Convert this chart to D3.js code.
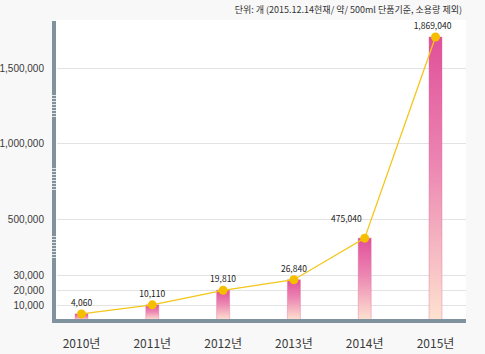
<!DOCTYPE html>
<html>
<head>
<meta charset="utf-8">
<script src="https://cdnjs.cloudflare.com/ajax/libs/d3/7.8.5/d3.min.js"></script>
<style>
  html, body { margin: 0; padding: 0; background: #f8f8f8; }
  svg { display: block; font-family: "Noto Sans CJK KR", "Noto Sans", sans-serif; }
</style>
</head>
<body>
<div id="chart"></div>
<script>
// data
var years = ["2010년", "2011년", "2012년", "2013년", "2014년", "2015년"];
var counts = [4060, 10110, 19810, 26840, 475040, 1869040];
var tickVals = [10000, 20000, 30000, 500000, 1000000, 1500000];
var unitNote = "단위: 개 (2015.12.14현재/ 약/ 500ml 단품기준, 소용량 제외)";

var W = 485, H = 354;
var plot = { left: 55, right: 466, top: 20, bottom: 320 };

var svg = d3.select("#chart").append("svg")
  .attr("width", W)
  .attr("height", H);

// gradient for the bars
var defs = svg.append("defs");
var grad = defs.append("linearGradient")
  .attr("id", "barGrad")
  .attr("x1", 0).attr("y1", 0).attr("x2", 0).attr("y2", 1);
grad.append("stop").attr("offset", "0%").attr("stop-color", "#e0509a");
grad.append("stop").attr("offset", "45%").attr("stop-color", "#ec86b2");
grad.append("stop").attr("offset", "100%").attr("stop-color", "#fde2cf");

// white plot background
svg.append("rect")
  .attr("x", plot.left).attr("y", plot.top)
  .attr("width", plot.right - plot.left)
  .attr("height", plot.bottom - plot.top)
  .attr("fill", "#fff");

// broken axis: piecewise linear scale
var y = d3.scaleLinear()
  .domain([0, 30000, 470000, 500000, 1000000, 1500000, 2000000])
  .range([plot.bottom, 275, 242, 219, 143, 68, 26]);

var x = d3.scalePoint()
  .domain(years)
  .range([plot.left + 26.5, plot.right - 30.5]);

// y axis with gridlines
var yAxis = svg.append("g")
  .attr("transform", "translate(" + plot.left + ",0)")
  .call(d3.axisLeft(y).tickValues(tickVals).tickSize(-(plot.right - plot.left)).tickPadding(11)
    .tickFormat(d3.format(",")));
yAxis.select(".domain").remove();
yAxis.selectAll(".tick line").attr("stroke", "#e3e3e3").attr("x1", 2);
yAxis.selectAll(".tick text")
  .attr("fill", "#3a3a3a")
  .style("font-size", "10px");

// x labels
svg.append("g").selectAll("text")
  .data(years)
  .enter().append("text")
  .attr("x", function(d) { return x(d); })
  .attr("y", 348)
  .attr("text-anchor", "middle")
  .attr("fill", "#3a3a3a")
  .style("font-size", "12px")
  .text(function(d) { return d; });

// bars
var barW = 13;
svg.append("g").selectAll("rect")
  .data(counts)
  .enter().append("rect")
  .attr("x", function(d, i) { return x(years[i]) - barW / 2; })
  .attr("y", function(d) { return y(d); })
  .attr("width", barW)
  .attr("height", function(d) { return plot.bottom - y(d); })
  .attr("fill", "url(#barGrad)")
  .attr("stroke", "#d9609c")
  .attr("stroke-opacity", 0.35)
  .attr("stroke-width", 1);

// axis bars
svg.append("rect")
  .attr("x", 52).attr("y", 21)
  .attr("width", 4).attr("height", 302)
  .attr("fill", "#7f929e");
svg.append("rect")
  .attr("x", 52).attr("y", 319)
  .attr("width", plot.right - 52).attr("height", 4)
  .attr("fill", "#7f929e");

// break marks on the y axis
var breaks = [[95, 117], [168, 191], [236, 259]];
breaks.forEach(function(b) {
  for (var yy = b[0]; yy <= b[1]; yy += 3) {
    svg.append("line")
      .attr("x1", 52).attr("x2", 56)
      .attr("y1", yy + 0.5).attr("y2", yy + 0.5)
      .attr("stroke", "#dfe5e9")
      .attr("stroke-width", 1);
  }
});

// line + dots
var line = d3.line()
  .x(function(d, i) { return x(years[i]); })
  .y(function(d) { return y(d); });
svg.append("path")
  .datum(counts)
  .attr("d", line)
  .attr("fill", "none")
  .attr("stroke", "#f3c619")
  .attr("stroke-width", 1.3);

svg.append("g").selectAll("circle")
  .data(counts)
  .enter().append("circle")
  .attr("cx", function(d, i) { return x(years[i]); })
  .attr("cy", function(d) { return y(d); })
  .attr("r", 4.5)
  .attr("fill", "#f5bf00");

// value labels
svg.append("g").selectAll("text")
  .data(counts)
  .enter().append("text")
  .attr("x", function(d, i) { return i == counts.length - 2 ? x(years[i]) - 3 : x(years[i]) - (i == counts.length - 1 ? 3 : 0); })
  .attr("y", function(d, i) { return y(d) - (i == counts.length - 2 ? 16 : 8); })
  .attr("text-anchor", function(d, i) { return i == counts.length - 2 ? "end" : "middle"; })
  .attr("fill", "#222")
  .style("font-size", "8.5px")
  .text(function(d) { return d3.format(",")(d); });

// unit note
svg.append("text")
  .attr("x", 462).attr("y", 13)
  .attr("text-anchor", "end")
  .attr("fill", "#333")
  .style("font-size", "9px")
  .text(unitNote);
</script>
</body>
</html>
